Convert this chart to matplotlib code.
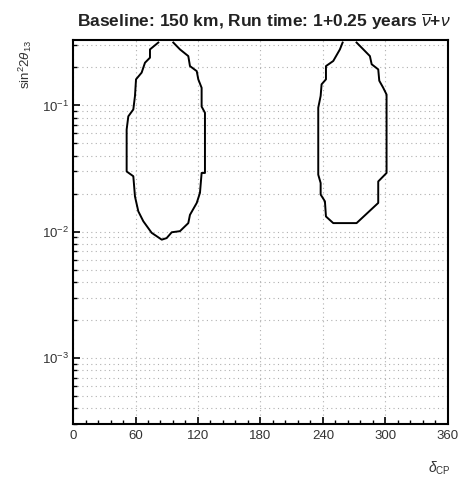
import matplotlib
matplotlib.use("Agg")
import matplotlib.pyplot as plt
from matplotlib.ticker import MultipleLocator, LogLocator, NullFormatter

plt.rcParams['font.family'] = ['Liberation Sans', 'DejaVu Sans']
plt.rcParams['mathtext.fontset'] = 'custom'
plt.rcParams['mathtext.rm'] = 'Liberation Sans'
plt.rcParams['mathtext.it'] = 'Liberation Sans:italic'

# left island (delta_CP in degrees, sin^2 2theta13)
left_dcp = [81.9, 73.9, 73.9, 69.1, 65.9, 60.5, 59.5, 57.9, 53.1, 51.5, 51.5,
            57.9, 59.5, 62.7, 67.5, 75.5, 85.2, 89.9, 94.8, 102.7, 110.7, 112.3,
            118.8, 121.9, 123.5, 126.7, 126.7, 123.5, 123.5, 120.3, 118.8, 112.3,
            110.7, 102.7, 96.3]
left_s2 = [0.315, 0.278, 0.239, 0.218, 0.182, 0.161, 0.119, 0.093, 0.082, 0.0645, 0.030,
           0.0275, 0.019, 0.0145, 0.0121, 0.0098, 0.00865, 0.0089, 0.0099, 0.0101, 0.0117, 0.0136,
           0.0169, 0.0203, 0.0292, 0.0292, 0.0875, 0.098, 0.138, 0.161, 0.187, 0.205,
           0.246, 0.278, 0.315]

# right island
right_dcp = [258.9, 256.3, 249.9, 242.9, 242.9, 238.7, 237.8, 235.5, 235.5, 237.8,
             237.8, 241.9, 242.9, 249.9, 272.3, 293.1, 293.1, 301.1, 301.1, 297.9,
             294.1, 293.1, 286.8, 285.1, 280.3, 272.3]
right_s2 = [0.315, 0.278, 0.225, 0.205, 0.161, 0.147, 0.119, 0.096, 0.0283, 0.0243,
            0.0197, 0.0174, 0.0132, 0.0117, 0.0117, 0.0169, 0.025, 0.0292, 0.122, 0.138,
            0.157, 0.193, 0.212, 0.246, 0.27, 0.315]

fig = plt.figure(figsize=(4.69, 4.83), dpi=100)
ax = fig.add_axes([0.1557, 0.1222, 0.7993, 0.7950])

ax.plot(left_dcp, left_s2, color='black', lw=1.4)
ax.plot(right_dcp, right_s2, color='black', lw=1.4)

ax.set_yscale('log')
ax.set_xlim(0, 360)
ax.set_ylim(3e-4, 0.33)

ax.xaxis.set_major_locator(MultipleLocator(60))
ax.xaxis.set_minor_locator(MultipleLocator(12))
ax.yaxis.set_major_locator(LogLocator(base=10))
ax.yaxis.set_minor_locator(LogLocator(base=10, subs=range(2, 10)))
ax.yaxis.set_minor_formatter(NullFormatter())

ax.grid(True, which='major', axis='x', color='#b0b0b0', ls=(0, (1, 3)), lw=0.8)
ax.grid(True, which='both', axis='y', color='#b0b0b0', ls=(0, (1, 3)), lw=0.8)

ax.tick_params(which='both', direction='in', labelsize=9.5, colors='black',
               labelcolor='#333333')
ax.tick_params(which='major', length=5, width=1.2)
ax.tick_params(which='minor', length=3, width=1.0)
ax.tick_params(axis='x', pad=4)
ax.tick_params(axis='y', pad=3)
for s in ax.spines.values():
    s.set_linewidth(1.5)

ax.set_title(r'Baseline: 150 km, Run time: 1+0.25 years $\overline{\nu}$+$\nu$',
             fontsize=12.5, fontweight='bold', pad=9, x=0.51, color='#222222')

fig.text(0.055, 0.918, r'sin$^{2}$2$\theta_{13}$', rotation=90, fontsize=9.5,
         ha='center', va='top', color='#333333')
fig.text(0.937, 0.013, r'$\delta_{\rm CP}$', fontsize=10, ha='center', va='bottom',
         color='#333333')

fig.savefig('out.png', dpi=100)
